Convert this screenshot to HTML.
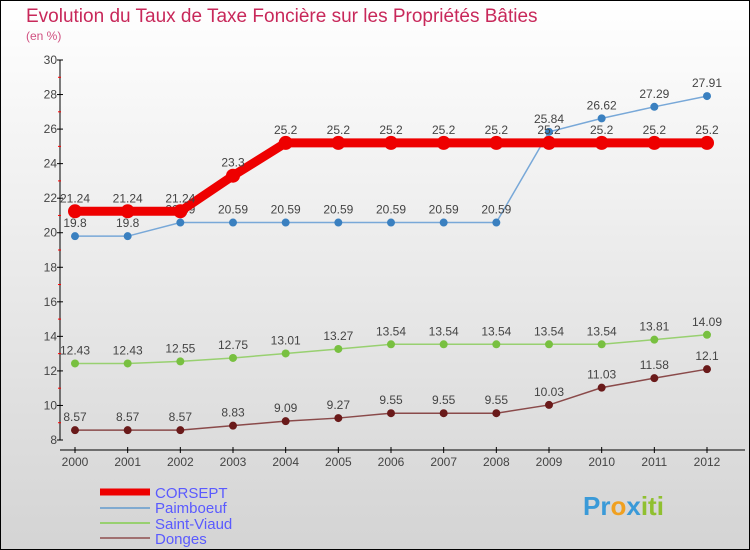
<!DOCTYPE html>
<html><head><meta charset="utf-8"><style>
body{margin:0;width:750px;height:550px;overflow:hidden;font-family:"Liberation Sans",sans-serif}
svg{display:block}
</style></head><body>
<svg id="chart" width="750" height="550" xmlns="http://www.w3.org/2000/svg">
<defs><linearGradient id="bg" x1="0" y1="0" x2="0" y2="1"><stop offset="0" stop-color="#ffffff"/><stop offset="1" stop-color="#d4d4d4"/></linearGradient></defs>
<rect x="0.5" y="0.5" width="749" height="549" fill="url(#bg)" stroke="#000"/>
<text x="26" y="22" font-size="19" fill="#c8285a">Evolution du Taux de Taxe Foncière sur les Propriétés Bâties</text>
<text x="26" y="40" font-size="12" fill="#d05080">(en %)</text>
<g id="axes"></g><g id="series"></g>
<g>
<line x1="100" y1="492" x2="150" y2="492" stroke="#ee0000" stroke-width="7"/>
<text x="155" y="498" font-size="15" fill="#5a5aff">CORSEPT</text>
<line x1="100" y1="508" x2="150" y2="508" stroke="#80aad0" stroke-width="2"/>
<text x="155" y="513" font-size="15" fill="#5a5aff">Paimboeuf</text>
<line x1="100" y1="523" x2="150" y2="523" stroke="#98d070" stroke-width="2"/>
<text x="155" y="529" font-size="15" fill="#5a5aff">Saint-Viaud</text>
<line x1="100" y1="538" x2="150" y2="538" stroke="#a07070" stroke-width="2"/>
<text x="155" y="544" font-size="15" fill="#5a5aff">Donges</text>
</g>
<text x="583" y="515" font-size="26" font-weight="bold" fill="#3a9ad8">Pr<tspan fill="#f0a020">o</tspan><tspan fill="#3a9ad8">x</tspan><tspan fill="#90c030">iti</tspan></text>
</svg>
<script>
const years=[2000,2001,2002,2003,2004,2005,2006,2007,2008,2009,2010,2011,2012];
const corsept=[21.24,21.24,21.24,23.3,25.2,25.2,25.2,25.2,25.2,25.2,25.2,25.2,25.2];
const paimboeuf=[19.8,19.8,20.59,20.59,20.59,20.59,20.59,20.59,20.59,25.84,26.62,27.29,27.91];
const saintViaud=[12.43,12.43,12.55,12.75,13.01,13.27,13.54,13.54,13.54,13.54,13.54,13.81,14.09];
const donges=[8.57,8.57,8.57,8.83,9.09,9.27,9.55,9.55,9.55,10.03,11.03,11.58,12.1];
const yTicks=[8,10,12,14,16,18,20,22,24,26,28,30];
const NS="http://www.w3.org/2000/svg";
const x=i=>75+i*(707-75)/(years.length-1);
const y=v=>440-(v-8)*(380/22);
function el(t,a,p){const e=document.createElementNS(NS,t);for(const k in a)e.setAttribute(k,a[k]);p.appendChild(e);return e;}
const ax=document.getElementById('axes');
let l=el('line',{x1:60,y1:60,x2:60,y2:440,stroke:'#000','stroke-width':1},ax);


l=el('line',{x1:60,y1:450,x2:745,y2:450,stroke:'#000','stroke-width':1},ax);


yTicks.forEach(v=>{
 el('line',{x1:57,y1:y(v),x2:63,y2:y(v),stroke:'#000'},ax);
 if(v<30) el('line',{x1:58,y1:y(v+1),x2:61,y2:y(v+1),stroke:'#f00'},ax);
 const t=el('text',{x:57,y:y(v)+4,'font-size':12,fill:'#444','text-anchor':'end'},ax);
 t.textContent=v;
 
 
});
years.forEach((yr,i)=>{
 el('line',{x1:x(i),y1:447,x2:x(i),y2:453,stroke:'#000'},ax);
 const t=el('text',{x:x(i),y:466,'font-size':12,fill:'#444','text-anchor':'middle'},ax);
 t.textContent=yr;
 
 
});
const sg=document.getElementById('series');
function draw(vals,name,color,w,r,fill){
 const g=el('g',{},sg);
 
 
 const p=el('polyline',{points:vals.map((v,i)=>x(i)+','+y(v)).join(' '),fill:'none',stroke:color,'stroke-width':w},g);
 
 
 vals.forEach((v,i)=>{
  const c=el('circle',{cx:x(i),cy:y(v),r:r,fill:fill},g);
  
  
  const t=el('text',{x:x(i),y:y(v)-9,'font-size':12,fill:'#444','text-anchor':'middle'},g);
  t.textContent=v;
  
  
 });
}
draw(donges,'donges','#8a4a4a',1.5,4,'#6a1a1a');
draw(saintViaud,'saint-viaud','#98d070',1.5,4,'#78c040');
draw(paimboeuf,'paimboeuf','#78a8d8',1.5,4,'#3a80c0');
draw(corsept,'corsept','#ee0000',9,7,'#ee0000');
</script>
</body></html>
